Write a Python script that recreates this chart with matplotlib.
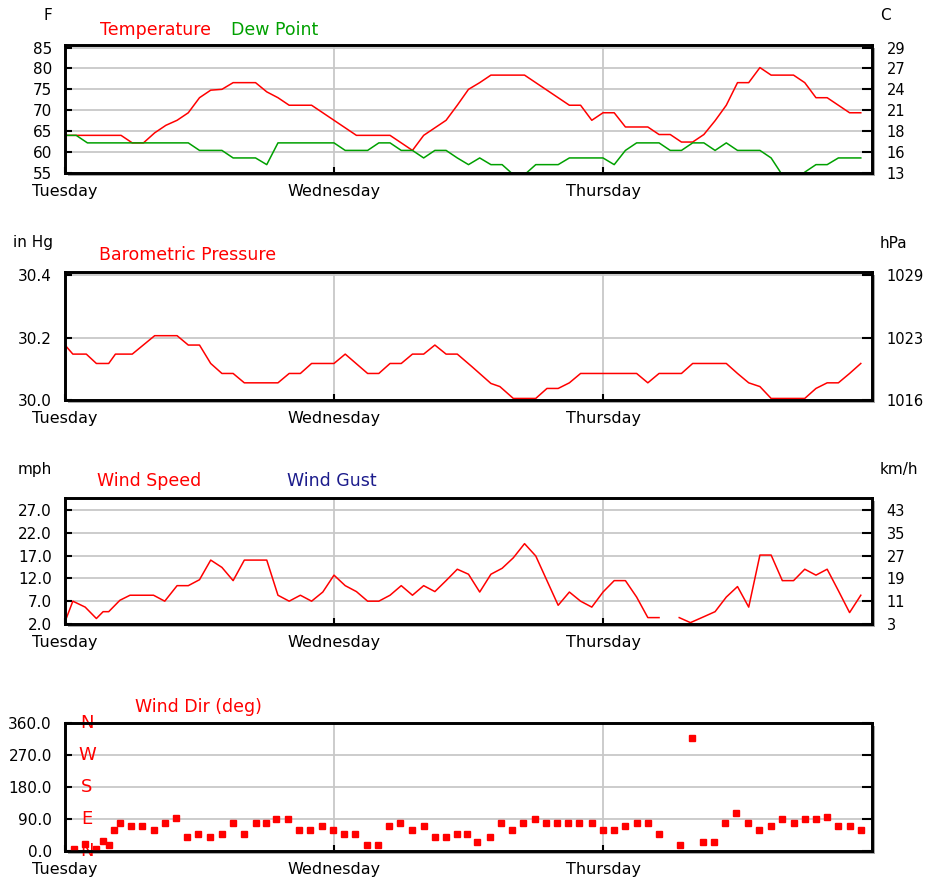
import matplotlib
matplotlib.use("Agg")
import matplotlib.pyplot as plt
from matplotlib.patches import Rectangle
import numpy as np

# ---- data (hours since Tuesday 00:00) ----
days = ['Tuesday', 'Wednesday', 'Thursday']
day_hours = [0, 24, 48]

temp_h = [0, 5, 6, 7, 8, 9, 10, 11, 12, 13, 14, 15, 17, 18, 19, 20, 22, 23, 24, 25, 26, 29, 30, 31, 32,
          33, 34, 35, 36, 37, 38, 41, 42, 43, 44, 45, 46, 47, 48, 49, 50, 52, 53, 54, 55, 56, 57, 58,
          59, 60, 61, 62, 63, 65, 66, 67, 68, 69, 70, 71]
temp_f = [64, 64, 62.2, 62.2, 64.6, 66.4, 67.6, 69.4, 73, 74.8, 75, 76.6, 76.6, 74.4, 73, 71.2, 71.2,
          69.4, 67.6, 65.8, 64, 64, 62.2, 60.4, 64, 65.8, 67.6, 71.2, 75, 76.6, 78.4, 78.4, 76.6, 74.8,
          73, 71.2, 71.2, 67.6, 69.4, 69.4, 66, 66, 64.2, 64.2, 62.4, 62.4, 64.2, 67.5, 71.2, 76.6, 76.6,
          80.2, 78.4, 78.4, 76.6, 73, 73, 71.2, 69.4, 69.4]

dew_h = [0, 1, 2, 11, 12, 14, 15, 17, 18, 19, 24, 25, 27, 28, 29, 30, 31, 32, 33, 34, 35, 36, 37, 38,
         39, 40, 41, 42, 44, 45, 48, 49, 50, 51, 53, 54, 55, 56, 57, 58, 59, 60, 62, 63, 64, 65, 66,
         67, 68, 69, 71]
dew_f = [64, 64, 62.2, 62.2, 60.4, 60.4, 58.6, 58.6, 57, 62.2, 62.2, 60.4, 60.4, 62.2, 62.2, 60.4,
         60.4, 58.6, 60.4, 60.4, 58.6, 57, 58.6, 57, 57, 54.6, 54.6, 57, 57, 58.6, 58.6, 57, 60.4, 62.2,
         62.2, 60.4, 60.4, 62.2, 62.2, 60.4, 62.2, 60.4, 60.4, 58.6, 54.5, 53, 55.2, 57, 57, 58.6, 58.6]

baro_h = [0, 0.7, 1.9, 2.8, 3.9, 4.5, 6, 8, 10, 11, 12, 13, 14, 15, 16, 19, 20, 21, 22, 24, 25, 27,
          28, 29, 30, 31, 32, 33, 34, 35, 36.3, 38, 38.8, 40, 42, 43, 44, 45, 46, 51, 52, 53, 55, 56,
          59, 60, 61, 62, 63, 66, 67, 68, 69, 70, 71]
baro_in = [30.176, 30.147, 30.147, 30.117, 30.117, 30.147, 30.147, 30.206, 30.206, 30.176, 30.176,
           30.117, 30.085, 30.085, 30.055, 30.055, 30.085, 30.085, 30.117, 30.117, 30.147, 30.085,
           30.085, 30.117, 30.117, 30.147, 30.147, 30.176, 30.147, 30.147, 30.107, 30.053, 30.043,
           30.005, 30.005, 30.037, 30.037, 30.055, 30.085, 30.085, 30.055, 30.085, 30.085, 30.117,
           30.117, 30.085, 30.055, 30.043, 30.005, 30.005, 30.037, 30.055, 30.055, 30.085, 30.117]

wind_h = [0, 0.7, 1.8, 2.8, 3.4, 3.9, 4.9, 5.8, 7.9, 8.9, 10, 11, 12, 13, 14, 15, 16, 18, 19, 20, 21,
          22, 23, 24, 25, 26, 27, 28, 29, 30, 31, 32, 33, 34, 35, 36, 37, 38, 39, 40, 41, 42, 43, 44,
          45, 46, 47, 48, 49, 50, 51, 52, 53, 54, 54.8, 55.8, 57, 58, 59, 60, 61, 62, 63, 64, 65, 66,
          67, 68, 69, 70, 71]
wind_mph = [2.5, 7, 5.7, 3.2, 4.7, 4.7, 7.2, 8.3, 8.3, 7, 10.4, 10.4, 11.7, 16, 14.4, 11.5, 16, 16,
            8.3, 7, 8.3, 7, 9, 12.7, 10.4, 9.1, 7, 7, 8.3, 10.4, 8.3, 10.4, 9.1, 11.5, 14, 12.9, 9,
            12.9, 14.2, 16.5, 19.6, 16.9, 11.5, 6.1, 9, 7, 5.7, 9, 11.5, 11.5, 7.9, 3.4, 3.4, np.nan,
            3.4, 2.3, 3.6, 4.7, 7.9, 10.2, 5.7, 17.1, 17.1, 11.5, 11.5, 14, 12.7, 14, 9.3, 4.5, 8.3]

dir_h = [0.8, 1.8, 2.8, 3.4, 3.9, 4.4, 4.9, 5.9, 6.9, 7.9, 8.9, 9.9, 10.9, 11.9, 12.9, 14, 15, 16, 17,
         17.9, 18.8, 19.9, 20.9, 21.9, 22.9, 23.9, 24.9, 25.9, 26.9, 27.9, 28.9, 29.9, 31, 32, 33, 34,
         35, 35.9, 36.8, 37.9, 38.9, 39.9, 40.9, 41.9, 42.9, 43.9, 44.9, 45.9, 47, 48, 49, 50, 51, 52,
         53, 54.9, 55.9, 56.9, 57.9, 58.9, 59.9, 60.9, 61.9, 63, 64, 65, 66, 67, 68, 69, 70, 71]
dir_deg = [7, 20, 7, 29, 17, 59, 80, 69, 69, 59, 80, 92, 38, 48, 38, 48, 80, 48, 80, 80, 90, 90, 59,
           59, 69, 59, 48, 48, 17, 17, 69, 80, 59, 69, 38, 38, 48, 48, 26, 38, 80, 59, 80, 90, 80, 80,
           80, 80, 80, 59, 59, 69, 80, 80, 48, 17, 318, 26, 26, 80, 106, 80, 59, 69, 90, 80, 90, 90,
           95, 69, 69, 59]

temp_ticks = [55, 60, 65, 70, 75, 80, 85]
temp_c_labels = ['13', '16', '18', '21', '24', '27', '29']
baro_ticks = [30.0, 30.2, 30.4]
baro_hpa_labels = ['1016', '1023', '1029']
wind_ticks = [2.0, 7.0, 12.0, 17.0, 22.0, 27.0]
wind_kmh_labels = ['3', '11', '19', '27', '35', '43']
dir_ticks = [0, 90, 180, 270, 360]
compass = ['N', 'E', 'S', 'W', 'N']

RED = '#ff0000'
GREEN = '#00a000'
NAVY = '#1c1c8c'
GRID = '#c8c8c8'
FS = 11      # left tick labels / units
XFS = 11.5   # day labels
RFS = 10.5   # right tick labels
TFS = 12.5   # series titles

W, H = 927, 882
fig = plt.figure(figsize=(W / 100, H / 100), dpi=100)
fig.patch.set_facecolor('white')


def fx(x):
    return x / W


def fy(y):
    return 1 - y / H


def panel(top, bottom, ylim, ticks, fmt, right_labels):
    left, right = 65, 872
    # drop shadow behind the frame
    fig.patches.append(Rectangle((fx(left + 3), fy(bottom + 3)), fx(right - left), (bottom - top) / H,
                                 transform=fig.transFigure, facecolor='#a8a8a8', edgecolor='none',
                                 zorder=-1))
    ax = fig.add_axes([fx(left), fy(bottom), fx(right - left), (bottom - top) / H])
    ax.set_xlim(0, 72)
    ax.set_ylim(*ylim)
    ax.set_axisbelow(True)
    ax.grid(True, color=GRID, lw=1.3)
    ax.set_xticks(day_hours)
    ax.set_xticklabels(days, fontsize=XFS)
    ax.set_yticks(ticks)
    ax.set_yticklabels([fmt % t for t in ticks], fontsize=FS)
    ax.tick_params(axis='x', direction='in', length=4, width=1.5, pad=8, top=False)
    ax.tick_params(axis='y', direction='in', length=5, width=1.5, pad=9.5)
    for s in ax.spines.values():
        s.set_linewidth(1.9)
    ax2 = ax.twinx()
    ax2.set_ylim(*ylim)
    ax2.set_yticks(ticks)
    ax2.tick_params(axis='y', direction='in', length=7, width=1.5, pad=10.5)
    if right_labels is None:
        ax2.set_yticklabels([])
    else:
        ax2.set_yticklabels(right_labels, fontsize=RFS)
    for s in ax2.spines.values():
        s.set_linewidth(1.9)
    return ax


# temperature / dew point
ax1 = panel(45, 173, (55, 85.6), temp_ticks, '%d', temp_c_labels)
ax1.plot(temp_h, temp_f, color=RED, lw=1.1)
ax1.plot(dew_h, dew_f, color=GREEN, lw=1.1)
fig.text(fx(48), fy(15), 'F', fontsize=FS, ha='center', va='center')
fig.text(fx(885), fy(15), 'C', fontsize=FS, ha='center', va='center')
fig.text(fx(100), fy(30), 'Temperature', fontsize=TFS, color=RED, va='center')
fig.text(fx(231), fy(30), 'Dew Point', fontsize=TFS, color=GREEN, va='center')

# barometer
ax2 = panel(272, 400, (30.0, 30.41), baro_ticks, '%.1f', baro_hpa_labels)
ax2.plot(baro_h, baro_in, color=RED, lw=1.1)
fig.text(fx(13), fy(243), 'in Hg', fontsize=FS, va='center')
fig.text(fx(880), fy(243), 'hPa', fontsize=FS, va='center')
fig.text(fx(99), fy(255), 'Barometric Pressure', fontsize=TFS, color=RED, va='center')

# wind speed
ax3 = panel(498, 624, (2.0, 29.6), wind_ticks, '%.1f', wind_kmh_labels)
ax3.plot(wind_h, wind_mph, color=RED, lw=1.1)
fig.text(fx(18), fy(470), 'mph', fontsize=FS, va='center')
fig.text(fx(880), fy(470), 'km/h', fontsize=FS, va='center')
fig.text(fx(97), fy(481), 'Wind Speed', fontsize=TFS, color=RED, va='center')
fig.text(fx(287), fy(481), 'Wind Gust', fontsize=TFS, color=NAVY, va='center')

# wind direction
ax4 = panel(723, 851, (0, 360), dir_ticks, '%.1f', None)
for d, c in zip(dir_ticks, compass):
    ax4.text(1.96, d, c, color=RED, fontsize=FS + 2, ha='center', va='center', zorder=1,
             clip_on=False)
ax4.plot(dir_h, dir_deg, 's', color=RED, ms=4.3, mec=RED, zorder=3)
fig.text(fx(135), fy(707), 'Wind Dir (deg)', fontsize=TFS, color=RED, va='center')

plt.savefig('out.png', dpi=100)
